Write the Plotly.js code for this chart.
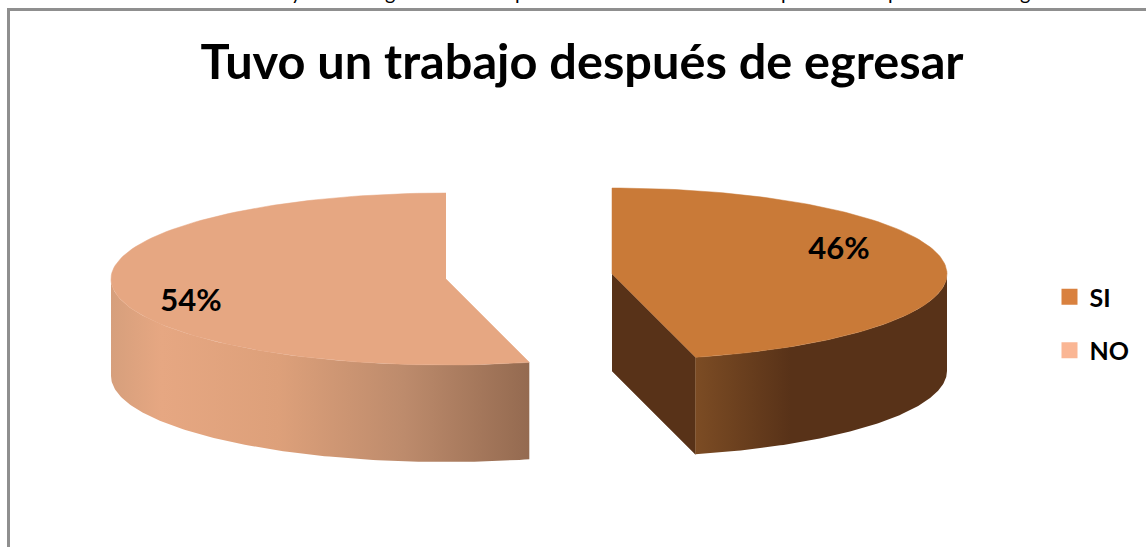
<!DOCTYPE html>
<html>
<head>
<meta charset="utf-8">
<script src="https://cdn.plot.ly/plotly-3.0.1.min.js"></script>
<style>html,body{margin:0;padding:0;background:#fff;overflow:hidden}#chart{width:1146px;height:547px}</style>
</head>
<body>
<div id="chart"></div>
<script>
const categories = ["SI", "NO"];
const values = [46, 54];
const chartTitle = "Tuvo un trabajo después de egresar";
const topColors = ["#c97a38", "#e6a782"];
const legendColors = ["#d9813f", "#fab694"];
const croppedLetters = ["y", "g", "p", "p", "p", "g"];
const croppedLetterX = [296, 390, 520, 786, 893, 1025];

const centers = [[612, 274], [446, 279]];
const rx = 335, ry = 86, depth = 97;
const labelPos = [[839, 251], [191, 303]];

const total = values.reduce((a, b) => a + b, 0);
const fracs = values.map(v => v / total);
const startFrac = [0, fracs[0]];

function pt(c, t, dy) {
  return [c[0] + rx * Math.sin(t), c[1] - ry * Math.cos(t) + (dy || 0)];
}
function arc(c, t0, t1, dy) {
  const n = 120, out = [];
  for (let i = 0; i <= n; i++) out.push(pt(c, t0 + (t1 - t0) * i / n, dy));
  return out;
}
function poly(points, name, fill, grad, lw) {
  const t = {
    x: points.map(p => p[0]), y: points.map(p => p[1]),
    type: "scatter", mode: "lines", fill: "toself", name: name,
    line: {width: lw || 0, color: fill}, fillcolor: fill,
    showlegend: false, hoverinfo: "skip"
  };
  if (grad) t.fillgradient = {type: "horizontal", colorscale: grad};
  return t;
}

const TAU = Math.PI * 2;
const traces = [];

// SI slice
{
  const c = centers[0], t1 = fracs[0] * TAU;
  const front = arc(c, Math.PI / 2, t1, 0);
  traces.push(poly([[c[0], c[1]], pt(c, t1), pt(c, t1, depth), [c[0], c[1] + depth]], "SI corte", "#583218", null, 0.5));
  traces.push(poly(front.concat(arc(c, t1, Math.PI / 2, depth)), "SI lado", "#583218",
    [[0, "#7c4c24"], [0.38, "#583218"], [1, "#583218"]]));
  traces.push(poly([[c[0], c[1]]].concat(arc(c, 0, t1, 0)), categories[0], topColors[0], null, 0.5));
}
// NO slice
{
  const c = centers[1], t0 = startFrac[1] * TAU;
  const front = arc(c, t0, Math.PI * 1.5, 0);
  traces.push(poly(front.concat(arc(c, Math.PI * 1.5, t0, depth)), "NO lado", "#e6a782",
    [[0, "#d69f7c"], [0.12, "#e6a782"], [0.4, "#dda07a"], [0.7, "#bd8b6c"], [1, "#946a50"]]));
  traces.push(poly([[c[0], c[1]]].concat(arc(c, t0, TAU, 0)), categories[1], topColors[1], null, 0.5));
}

// percentage labels
traces.push({
  x: labelPos.map(p => p[0]), y: labelPos.map(p => p[1]),
  type: "scatter", mode: "text",
  text: values.map(v => v + "%"), textposition: "middle center",
  textfont: {family: "Lato, sans-serif", size: 31, color: "#000", weight: 700},
  showlegend: false, hoverinfo: "skip"
});

// legend entries
categories.forEach((name, i) => traces.push({
  x: [null], y: [null], type: "scatter", mode: "markers", name: name,
  legendgroup: name,
  marker: {symbol: "square", size: 18, color: legendColors[i]}
}));

const layout = {
  width: 1146, height: 547,
  margin: {l: 0, r: 0, t: 0, b: 0},
  paper_bgcolor: "#fff", plot_bgcolor: "#fff",
  xaxis: {range: [0, 1146], visible: false, fixedrange: true},
  yaxis: {range: [547, 0], visible: false, fixedrange: true},
  title: {
    text: "<b>" + chartTitle + "</b>",
    x: 582 / 1146, xanchor: "center", y: 1 - 62 / 547, yanchor: "middle",
    font: {family: "Lato, sans-serif", size: 48.7, color: "#000"}
  },
  showlegend: true,
  legend: {
    x: 1049.5 / 1146, xanchor: "left", y: 1 - 274 / 547, yanchor: "top",
    font: {family: "Lato, sans-serif", size: 25, color: "#000", weight: 700},
    tracegroupgap: 18, bgcolor: "rgba(0,0,0,0)", itemclick: false, itemdoubleclick: false
  },
  annotations: croppedLetters.map((ch, i) => ({
    text: ch, xref: "paper", yref: "paper", x: croppedLetterX[i] / 1146,
    y: 1 + 8 / 547, xanchor: "center", yanchor: "middle", showarrow: false,
    font: {family: "Lato, sans-serif", size: 20, color: "#000"}
  })),
  shapes: [
    {type: "line", xref: "paper", yref: "paper", x0: 8.5 / 1146, x1: 1, y0: 1 - 9.5 / 547, y1: 1 - 9.5 / 547, line: {color: "#8f8f8f", width: 3}},
    {type: "line", xref: "paper", yref: "paper", x0: 8.5 / 1146, x1: 8.5 / 1146, y0: 1 - 8 / 547, y1: 0, line: {color: "#8f8f8f", width: 3}}
  ]
};

Plotly.newPlot("chart", traces, layout, {displayModeBar: false, staticPlot: true});
</script>
</body>
</html>
